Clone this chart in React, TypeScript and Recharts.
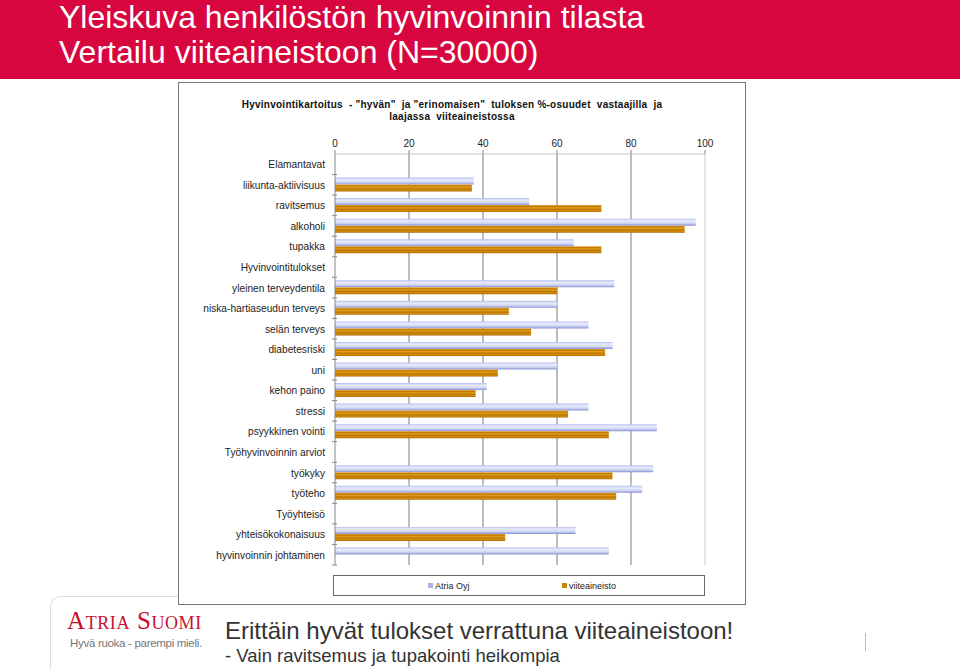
import React from "react";
import {
  BarChart,
  Bar,
  XAxis,
  YAxis,
  CartesianGrid,
  Legend,
  ReferenceLine,
} from "recharts";

const categories = [
  "Elamantavat",
  "liikunta-aktiivisuus",
  "ravitsemus",
  "alkoholi",
  "tupakka",
  "Hyvinvointitulokset",
  "yleinen terveydentila",
  "niska-hartiaseudun terveys",
  "selän terveys",
  "diabetesriski",
  "uni",
  "kehon paino",
  "stressi",
  "psyykkinen vointi",
  "Työhyvinvoinnin arviot",
  "työkyky",
  "työteho",
  "Työyhteisö",
  "yhteisökokonaisuus",
  "hyvinvoinnin johtaminen",
];

const atria = [null, 37.5, 52.5, 97.5, 64.5, null, 75.5, 60, 68.5, 75, 60, 41, 68.5, 87, null, 86, 83, null, 65, 74];
const viite = [null, 37, 72, 94.5, 72, null, 60, 47, 53, 73, 44, 38, 63, 74, null, 75, 76, null, 46, null];

const xTicks = [0, 20, 40, 60, 80, 100];

const chartTitle = [
  'Hyvinvointikartoitus  - "hyvän"  ja "erinomaisen"  tuloksen %-osuudet  vastaajilla  ja',
  "laajassa  viiteaineistossa",
];

const data = categories.map((name, i) => ({
  name,
  atria: atria[i],
  viite: viite[i],
}));

const CHART_W = 566;
const CHART_H = 521;
const MARGIN = { top: 46, right: 40, left: 0, bottom: 39 };
const X_AXIS_H = 25;
const BAND = (CHART_H - MARGIN.top - MARGIN.bottom - X_AXIS_H) / categories.length;

const font = "'Liberation Sans', Arial, sans-serif";

function CategoryTick(props: any) {
  const { x, y, payload } = props;
  return (
    <g>
      <line x1={x + 5} x2={x + 10} y1={y + BAND / 2} y2={y + BAND / 2} stroke="#888" />
      <text x={x - 2} y={y} dy={4} textAnchor="end" fontSize={10.2} fill="#222" fontFamily={font}>
        {payload.value}
      </text>
    </g>
  );
}

function LegendBox() {
  const item = (label: string, color: string) => (
    <span style={{ display: "inline-flex", alignItems: "center", gap: 2 }}>
      <span style={{ width: 5, height: 5, background: color, display: "inline-block" }} />
      {label}
    </span>
  );
  return (
    <div
      style={{
        boxSizing: "border-box",
        width: 372,
        height: 21,
        border: "1px solid #666",
        fontSize: 9,
        fontFamily: font,
        color: "#222",
        position: "relative",
      }}
    >
      <div style={{ position: "absolute", left: 94, top: 4 }}>{item("Atria Oyj", "#aab2e6")}</div>
      <div style={{ position: "absolute", left: 228, top: 4 }}>{item("viiteaineisto", "#c8860a")}</div>
    </div>
  );
}

export default function App() {
  return (
    <div
      style={{
        position: "absolute",
        left: 0,
        top: 0,
        width: 960,
        height: 669,
        overflow: "hidden",
        background: "#fff",
        fontFamily: font,
      }}
    >
      {/* header band */}
      <div
        style={{
          position: "absolute",
          left: 0,
          top: 0,
          width: 960,
          height: 79,
          background: "#d7063f",
          color: "#fff",
          fontSize: 32,
          lineHeight: "35px",
        }}
      >
        <div style={{ position: "absolute", left: 59, top: 0 }}>Yleiskuva henkilöstön hyvinvoinnin tilasta</div>
        <div style={{ position: "absolute", left: 59, top: 35 }}>Vertailu viiteaineistoon (N=30000)</div>
      </div>

      {/* logo frame */}
      <div
        style={{
          position: "absolute",
          left: 50,
          top: 596,
          width: 200,
          height: 100,
          borderTop: "1px solid #ddd",
          borderLeft: "1px solid #ddd",
          borderTopLeftRadius: 10,
        }}
      />
      <div
        style={{
          position: "absolute",
          left: 67,
          top: 610,
          color: "#c8102e",
          fontFamily: "'Liberation Serif', 'DejaVu Serif', serif",
          fontSize: 25,
          fontVariant: "small-caps",
          letterSpacing: 0.6,
          lineHeight: "22px",
          height: 22,
        }}
      >
        Atria Suomi
      </div>
      <div
        style={{
          position: "absolute",
          left: 70,
          top: 637,
          color: "#777",
          fontSize: 11.5,
          lineHeight: "12px",
          letterSpacing: -0.3,
        }}
      >
        Hyvä ruoka - parempi mieli.
      </div>

      {/* chart box */}
      <div
        style={{
          position: "absolute",
          left: 178,
          top: 82,
          width: CHART_W,
          height: CHART_H,
          border: "1px solid #777",
          background: "#fff",
        }}
      >
        <div
          style={{
            position: "absolute",
            left: 0,
            top: 16,
            width: 546,
            textAlign: "center",
            fontSize: 10,
            fontWeight: "bold",
            lineHeight: "12px",
            letterSpacing: 0.25,
            color: "#111",
            whiteSpace: "pre",
          }}
        >
          {chartTitle[0]}
          {"\n"}
          {chartTitle[1]}
        </div>
        <BarChart
          width={CHART_W}
          height={CHART_H}
          data={data}
          layout="vertical"
          margin={MARGIN}
          barGap={0}
          barSize={7}
          style={{ position: "absolute", left: 0, top: 0 }}
        >
          <defs>
            <linearGradient id="gAtria" x1="0" y1="0" x2="0" y2="1">
              <stop offset="0%" stopColor="#b4bcec" />
              <stop offset="30%" stopColor="#e8ebfc" />
              <stop offset="65%" stopColor="#d2d8f6" />
              <stop offset="100%" stopColor="#8890d2" />
            </linearGradient>
            <linearGradient id="gViite" x1="0" y1="0" x2="0" y2="1">
              <stop offset="0%" stopColor="#e8a640" />
              <stop offset="20%" stopColor="#c07a00" />
              <stop offset="40%" stopColor="#e2a21c" />
              <stop offset="60%" stopColor="#b87200" />
              <stop offset="80%" stopColor="#d88e0c" />
              <stop offset="100%" stopColor="#a86600" />
            </linearGradient>
          </defs>
          <CartesianGrid
            horizontal={false}
            vertical
            stroke="#7a7a7a"
            verticalValues={[20, 40, 60, 80]}
          />
          <XAxis
            type="number"
            orientation="top"
            domain={[0, 100]}
            ticks={xTicks}
            height={X_AXIS_H}
            axisLine={{ stroke: "#c8c8c8" }}
            tickLine={{ stroke: "#888" }}
            tickSize={4}
            tickMargin={3}
            tick={{ fontSize: 10, fill: "#222", fontFamily: font }}
            interval={0}
          />
          <YAxis
            type="category"
            dataKey="name"
            width={156}
            axisLine={{ stroke: "#888" }}
            tickLine={false}
            tick={<CategoryTick />}
            interval={0}
          />
          <ReferenceLine x={100} stroke="#c8c8c8" />
          <Bar dataKey="atria" name="Atria Oyj" fill="url(#gAtria)" isAnimationActive={false} />
          <Bar dataKey="viite" name="viiteaineisto" fill="url(#gViite)" isAnimationActive={false} />
          <Legend
            verticalAlign="middle"
            layout="horizontal"
            content={<LegendBox />}
            wrapperStyle={{ top: 492, left: 154, width: 372, height: 21 }}
          />
        </BarChart>
      </div>

      {/* takeaway */}
      <div style={{ position: "absolute", left: 225, top: 617, fontSize: 24, color: "#333", lineHeight: "28px" }}>
        Erittäin hyvät tulokset verrattuna viiteaineistoon!
      </div>
      <div style={{ position: "absolute", left: 225, top: 645, fontSize: 18.5, color: "#333", lineHeight: "22px" }}>
        - Vain ravitsemus ja tupakointi heikompia
      </div>
      <div style={{ position: "absolute", left: 865, top: 633, width: 1, height: 18, background: "#bbb" }} />
    </div>
  );
}
